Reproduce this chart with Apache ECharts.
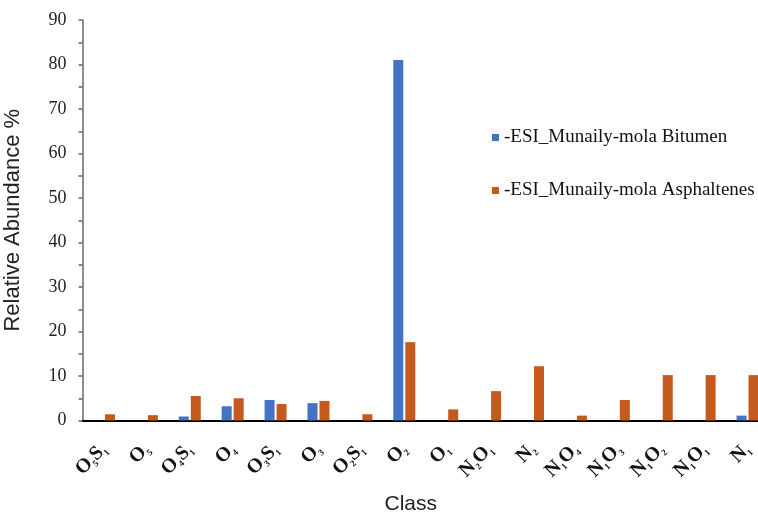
<!DOCTYPE html>
<html>
<head>
<meta charset="utf-8">
<script src="https://cdn.jsdelivr.net/npm/echarts@6/dist/echarts.min.js"></script>
<style>html,body{margin:0;padding:0;background:#fff}#c{width:758px;height:512px}</style>
</head>
<body>
<div id="c"></div>
<script>
var categories = ['O5S1','O5','O4S1','O4','O3S1','O3','O2S1','O2','O1','N2O1','N2','N1O4','N1O3','N1O2','N1O1','N1'];
var bitumen =     [0, 0, 0.9, 3.2, 4.6, 3.9, 0, 81, 0, 0, 0, 0, 0, 0, 0, 1.1];
var asphaltenes = [1.4, 1.2, 5.5, 5.0, 3.7, 4.4, 1.4, 17.6, 2.5, 6.6, 12.2, 1.1, 4.6, 10.2, 10.2, 10.2];
var yTicks = [0, 10, 20, 30, 40, 50, 60, 70, 80, 90];
var seriesNames = ['-ESI_Munaily-mola Bitumen', '-ESI_Munaily-mola Asphaltenes'];

function toRich(s) {
  return s.replace(/(\d+)/g, '{s|$1}');
}

var chart = echarts.init(document.getElementById('c'), null, {renderer: 'canvas'});
chart.setOption({
  animation: false,
  backgroundColor: '#ffffff',
  grid: {left: 82.5, right: -11, top: 20, bottom: 91.5, containLabel: false, outerBoundsMode: 'none'},
  legend: {
    orient: 'vertical',
    left: 487,
    top: 123,
    itemWidth: 7,
    itemHeight: 7,
    itemGap: 34,
    icon: 'rect',
    textStyle: {fontFamily: 'Liberation Serif', fontSize: 19, color: '#111'},
    data: seriesNames
  },
  xAxis: {
    type: 'category',
    data: categories,
    name: 'Class',
    nameLocation: 'middle',
    nameGap: 73,
    nameTextStyle: {fontFamily: 'Liberation Sans', fontSize: 21, color: '#222', padding: [0, 30, 0, 0]},
    axisLine: {show: true, lineStyle: {color: '#000', width: 2}},
    axisTick: {show: false},
    axisLabel: {
      interval: 0,
      rotate: 45,
      margin: 26,
      formatter: function (v) { return toRich(v); },
      fontFamily: 'Liberation Serif',
      fontWeight: 'bold',
      fontSize: 20,
      color: '#111',
      lineHeight: 22,
      rich: {
        s: {fontFamily: 'Liberation Serif', fontWeight: 'bold', fontSize: 9, color: '#111', verticalAlign: 'bottom', lineHeight: 9}
      }
    }
  },
  yAxis: {
    type: 'value',
    min: yTicks[0],
    max: yTicks[yTicks.length - 1],
    interval: 10,
    name: 'Relative Abundance %',
    nameLocation: 'middle',
    nameGap: 59,
    nameTextStyle: {fontFamily: 'Liberation Sans', fontSize: 22, color: '#222'},
    axisLine: {show: true, lineStyle: {color: '#666', width: 1.5}},
    axisTick: {show: true, length: 4, lineStyle: {color: '#666', width: 1.5}},
    minorTick: {show: true, splitNumber: 2, length: 4, lineStyle: {color: '#666', width: 1.5}},
    splitLine: {show: false},
    axisLabel: {margin: 16, fontFamily: 'Liberation Serif', fontSize: 18, color: '#222'}
  },
  series: [
    {name: seriesNames[0], type: 'bar', data: bitumen, barWidth: 10, barGap: '20%', itemStyle: {color: '#4472C4'}},
    {name: seriesNames[1], type: 'bar', data: asphaltenes, barWidth: 10, barGap: '20%', itemStyle: {color: '#C55A1F'}}
  ]
});
</script>
</body>
</html>
